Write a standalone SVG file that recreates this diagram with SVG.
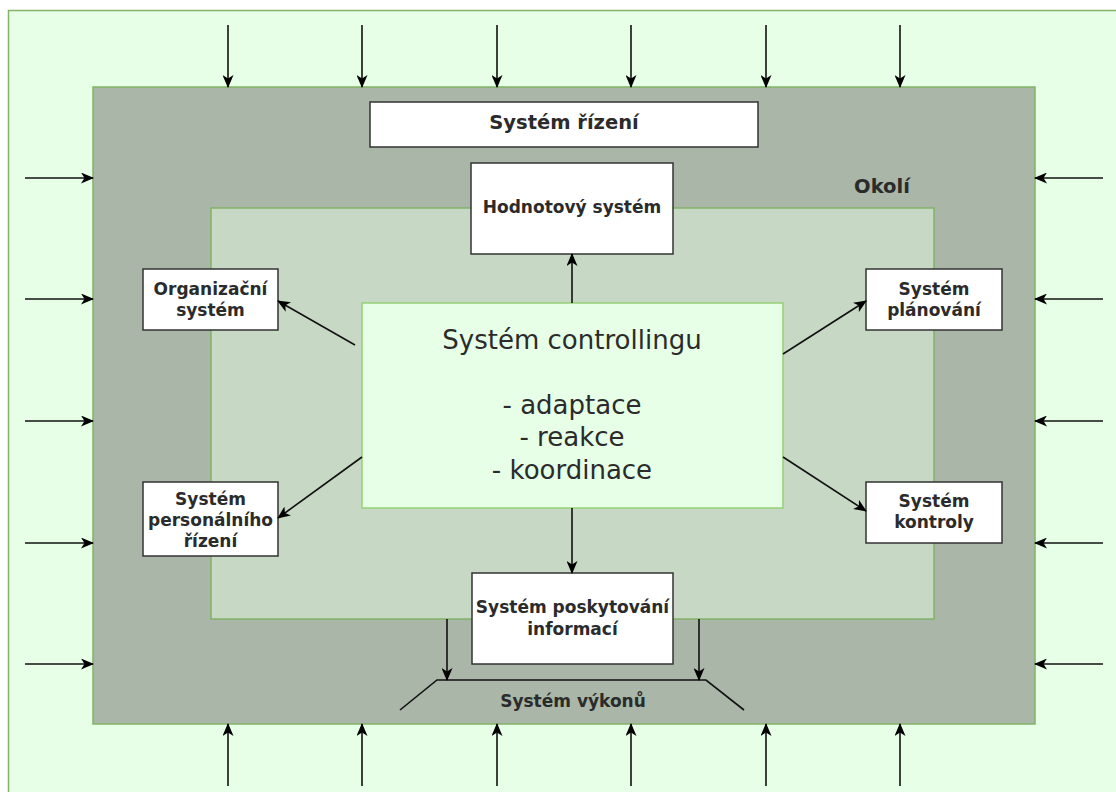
<svg xmlns="http://www.w3.org/2000/svg" width="1116" height="792" viewBox="0 0 1116 792">
  <defs>
    <marker id="arrow" viewBox="0 0 13 11" refX="12" refY="5.5" markerWidth="13" markerHeight="11" markerUnits="userSpaceOnUse" orient="auto">
      <path d="M0,0 L13,5.5 L0,11 L3.5,5.5 Z" fill="#000"/>
    </marker>
    <style>
      .region { stroke: #82b366; stroke-width: 1.5; }
      .box { fill: #ffffff; stroke: #333333; stroke-width: 1.5; }
      .link { fill: none; stroke: #111; stroke-width: 1.6; marker-end: url(#arrow); }
      .lbl { font-family: "DejaVu Sans", Verdana, sans-serif; font-weight: bold; font-size: 17px; fill: #2b2b2b; text-anchor: middle; }
      .big { font-size: 19.5px; }
      .main { font-family: "DejaVu Sans", Verdana, sans-serif; font-size: 26px; fill: #2b2b2b; text-anchor: middle; }
    </style>
  </defs>

  <!-- surroundings -->
  <rect id="environment" x="8.5" y="10.5" width="1120" height="800" fill="#e6ffe6" class="region"/>
  <g id="okoli">
    <rect x="93" y="87" width="942" height="637" fill="#a9b6a8" class="region"/>
    <text class="lbl big" x="882" y="193">Okolí</text>
  </g>
  <rect id="inner" x="211" y="208" width="723" height="411" fill="#c7d8c5" class="region"/>

  <g id="rizeni">
    <rect class="box" x="370" y="102" width="388" height="45"/>
    <text class="lbl big" x="564" y="129">Systém řízení</text>
  </g>

  <g id="hodnotovy">
    <rect class="box" x="471" y="163" width="202" height="91"/>
    <text class="lbl" x="572" y="213">Hodnotový systém</text>
  </g>

  <g id="controlling">
    <rect x="362" y="303" width="421" height="205" fill="#e6ffe6" stroke="#97d077" stroke-width="1.5"/>
    <text class="main" x="572" y="349">Systém controllingu</text>
    <text class="main" x="572" y="414">- adaptace</text>
    <text class="main" x="572" y="446">- reakce</text>
    <text class="main" x="572" y="479">- koordinace</text>
  </g>

  <g id="organizacni">
    <rect class="box" x="143" y="269" width="135" height="61"/>
    <text class="lbl" x="210.5" y="295">Organizační</text>
    <text class="lbl" x="210.5" y="316">systém</text>
  </g>

  <g id="personalni">
    <rect class="box" x="143" y="482" width="135" height="74"/>
    <text class="lbl" x="210.5" y="505">Systém</text>
    <text class="lbl" x="210.5" y="526">personálního</text>
    <text class="lbl" x="210.5" y="547">řízení</text>
  </g>

  <g id="planovani">
    <rect class="box" x="866" y="269" width="136" height="61"/>
    <text class="lbl" x="934" y="295">Systém</text>
    <text class="lbl" x="934" y="316">plánování</text>
  </g>

  <g id="kontroly">
    <rect class="box" x="866" y="482" width="136" height="61"/>
    <text class="lbl" x="934" y="507">Systém</text>
    <text class="lbl" x="934" y="528">kontroly</text>
  </g>

  <g id="informace">
    <rect class="box" x="472" y="573" width="201" height="91"/>
    <text class="lbl" x="572.5" y="613">Systém poskytování</text>
    <text class="lbl" x="572.5" y="635">informací</text>
  </g>

  <g id="vykony">
    <path d="M400,710 L437,680 L706,680 L744,710" fill="none" stroke="#111" stroke-width="1.6"/>
    <text class="lbl" x="573" y="707">Systém výkonů</text>
  </g>

  <g id="connectors">
    <!-- internal links -->
    <path class="link" d="M572,303 L572,254"/>
    <path class="link" d="M572,508 L572,573"/>
    <path class="link" d="M355,345 L278,301"/>
    <path class="link" d="M362,457 L278,518"/>
    <path class="link" d="M783,354 L866,301"/>
    <path class="link" d="M783,457 L866,511"/>
    <path class="link" d="M447,619 L447,680"/>
    <path class="link" d="M699,619 L699,680"/>

    <!-- inputs from the top -->
    <path class="link" d="M228,25 L228,87"/>
    <path class="link" d="M362,25 L362,87"/>
    <path class="link" d="M497,25 L497,87"/>
    <path class="link" d="M631,25 L631,87"/>
    <path class="link" d="M766,25 L766,87"/>
    <path class="link" d="M900,25 L900,87"/>

    <!-- inputs from the bottom -->
    <path class="link" d="M228,786 L228,724"/>
    <path class="link" d="M362,786 L362,724"/>
    <path class="link" d="M497,786 L497,724"/>
    <path class="link" d="M631,786 L631,724"/>
    <path class="link" d="M766,786 L766,724"/>
    <path class="link" d="M900,786 L900,724"/>

    <!-- inputs from the left -->
    <path class="link" d="M25,178 L93,178"/>
    <path class="link" d="M25,299 L93,299"/>
    <path class="link" d="M25,421 L93,421"/>
    <path class="link" d="M25,543 L93,543"/>
    <path class="link" d="M25,664 L93,664"/>

    <!-- inputs from the right -->
    <path class="link" d="M1103,178 L1035,178"/>
    <path class="link" d="M1103,299 L1035,299"/>
    <path class="link" d="M1103,421 L1035,421"/>
    <path class="link" d="M1103,543 L1035,543"/>
    <path class="link" d="M1103,664 L1035,664"/>
  </g>
</svg>
